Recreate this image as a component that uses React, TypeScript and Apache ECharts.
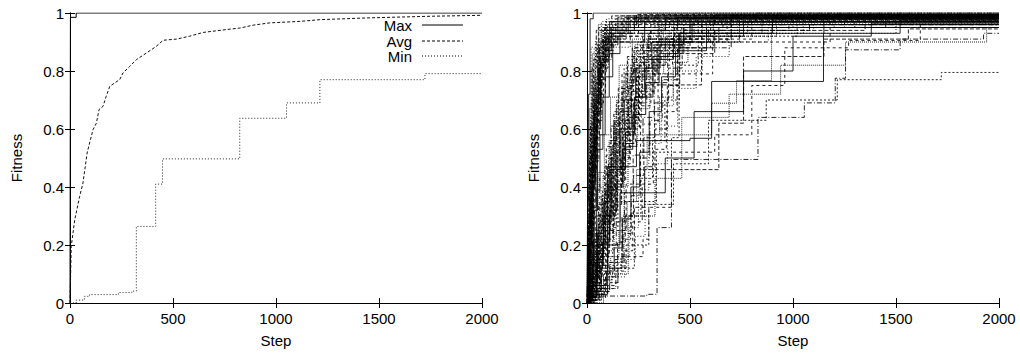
import React, { useEffect, useRef } from "react";
import * as echarts from "echarts";

// ---------- Left panel data ----------
const maxPoints: number[][] = [[0, 0], [2, 0.985], [30, 1], [2000, 1]];
const avgSteps = [0, 6, 23, 47, 63, 83, 99, 112, 128, 141, 160, 176, 193, 217, 241, 257, 290, 322, 371, 419, 452, 517, 581, 646, 760, 824, 889, 970, 1116, 1213, 1440, 1763, 2000];
const avgVals = [0, 0.195, 0.287, 0.368, 0.414, 0.517, 0.563, 0.598, 0.62, 0.667, 0.678, 0.713, 0.747, 0.759, 0.77, 0.793, 0.816, 0.839, 0.862, 0.885, 0.906, 0.91, 0.92, 0.933, 0.943, 0.948, 0.958, 0.966, 0.971, 0.977, 0.983, 0.989, 0.992];
const minSteps = [0, 30, 70, 95, 235, 300, 322, 416, 449, 824, 1051, 1213, 1723, 2000];
const minVals = [0, 0.01, 0.023, 0.029, 0.036, 0.041, 0.264, 0.41, 0.497, 0.637, 0.69, 0.77, 0.791, 0.791];

// ---------- Right panel data: individual runs [step, fitness] ----------
const runs: number[][][] = [
  [[0, 0.02], [3, 0.35], [8, 0.72], [15, 0.98], [30, 1.0]],
  [[0, 0.01], [5, 0.22], [12, 0.5], [25, 0.81], [45, 0.94], [120, 0.99]],
  [[0, 0.03], [7, 0.31], [18, 0.64], [35, 0.88], [70, 0.97], [300, 1.0]],
  [[0, 0.01], [10, 0.12], [22, 0.42], [40, 0.7], [60, 0.9], [150, 0.985]],
  [[0, 0.02], [6, 0.18], [14, 0.37], [28, 0.59], [52, 0.83], [85, 0.95], [400, 0.99]],
  [[0, 0.0], [9, 0.08], [20, 0.27], [33, 0.55], [48, 0.76], [75, 0.92], [180, 0.98]],
  [[0, 0.02], [4, 0.44], [11, 0.67], [26, 0.86], [55, 0.96], [260, 1.0]],
  [[0, 0.01], [12, 0.15], [30, 0.33], [44, 0.6], [66, 0.85], [110, 0.97]],
  [[0, 0.0], [8, 0.1], [16, 0.29], [38, 0.49], [58, 0.72], [90, 0.9], [210, 0.975]],
  [[0, 0.03], [5, 0.26], [13, 0.58], [24, 0.77], [42, 0.91], [95, 0.98], [520, 1.0]],
  [[0, 0.01], [14, 0.2], [27, 0.45], [46, 0.63], [72, 0.82], [105, 0.93], [330, 0.99]],
  [[0, 0.02], [10, 0.34], [21, 0.52], [36, 0.74], [62, 0.89], [140, 0.965], [700, 0.995]],
  [[0, 0.0], [6, 0.06], [19, 0.24], [31, 0.47], [50, 0.69], [80, 0.87], [130, 0.95], [900, 0.99]],
  [[0, 0.02], [11, 0.4], [24, 0.62], [41, 0.8], [68, 0.94], [230, 0.99]],
  [[0, 0.01], [15, 0.09], [29, 0.21], [47, 0.39], [63, 0.58], [88, 0.78], [125, 0.9], [280, 0.97]],
  [[0, 0.01], [4, 0.15], [9, 0.38], [17, 0.61], [32, 0.84], [57, 0.95], [240, 0.995]],
  [[0, 0.02], [7, 0.2], [16, 0.46], [29, 0.7], [49, 0.87], [100, 0.96], [450, 0.99]],
  [[0, 0.0], [13, 0.11], [26, 0.35], [43, 0.57], [61, 0.79], [93, 0.91], [190, 0.97], [820, 1.0]],
  [[0, 0.03], [6, 0.29], [15, 0.54], [30, 0.73], [53, 0.88], [115, 0.95], [600, 0.99]],
  [[0, 0.01], [9, 0.17], [23, 0.4], [37, 0.66], [64, 0.81], [102, 0.92], [250, 0.98]],
  [[0, 0.02], [3, 0.25], [10, 0.48], [20, 0.69], [39, 0.85], [74, 0.94], [160, 0.99]],
  [[0, 0.0], [16, 0.13], [34, 0.32], [51, 0.53], [77, 0.71], [108, 0.86], [160, 0.94], [380, 0.98]],
  [[0, 0.01], [8, 0.27], [18, 0.45], [32, 0.68], [56, 0.83], [98, 0.92], [310, 0.97], [1200, 0.995]],
  [[0, 0.02], [12, 0.19], [28, 0.5], [45, 0.73], [67, 0.9], [175, 0.98]],
  [[0, 0.0], [5, 0.07], [14, 0.28], [27, 0.51], [44, 0.67], [71, 0.84], [120, 0.93], [540, 0.985]],
  [[0, 0.01], [3, 0.1], [7, 0.26], [13, 0.43], [22, 0.6], [35, 0.78], [52, 0.9], [90, 0.97]],
  [[0, 0.0], [4, 0.05], [9, 0.16], [17, 0.33], [26, 0.49], [39, 0.64], [54, 0.79], [78, 0.9], [140, 0.98]],
  [[0, 0.02], [5, 0.12], [11, 0.3], [19, 0.47], [30, 0.63], [43, 0.77], [59, 0.87], [86, 0.95], [350, 0.995]],
  [[0, 0.01], [6, 0.09], [13, 0.22], [22, 0.39], [34, 0.56], [48, 0.71], [65, 0.83], [92, 0.93], [200, 0.985]],
  [[0, 0.0], [2, 0.06], [8, 0.19], [16, 0.36], [25, 0.52], [37, 0.69], [55, 0.81], [82, 0.91], [170, 0.97]],
  [[0, 0.01], [2, 0.04], [5, 0.11], [9, 0.2], [14, 0.31], [20, 0.42], [27, 0.55], [36, 0.67], [47, 0.78], [63, 0.88], [95, 0.95], [280, 0.99]],
  [[0, 0.0], [3, 0.03], [7, 0.08], [12, 0.17], [18, 0.28], [25, 0.38], [33, 0.5], [42, 0.62], [55, 0.74], [73, 0.85], [104, 0.93], [230, 0.98]],
  [[0, 0.02], [4, 0.06], [8, 0.14], [13, 0.25], [19, 0.34], [26, 0.46], [34, 0.59], [45, 0.72], [58, 0.82], [79, 0.91], [125, 0.97]],
  [[0, 0.0], [1, 0.02], [6, 0.05], [11, 0.12], [17, 0.23], [24, 0.35], [31, 0.44], [41, 0.57], [52, 0.7], [69, 0.8], [91, 0.89], [150, 0.96], [620, 0.995]],
  [[0, 0.01], [3, 0.07], [7, 0.15], [12, 0.27], [18, 0.4], [24, 0.51], [32, 0.65], [43, 0.76], [57, 0.86], [80, 0.94], [190, 0.99]],
  [[0, 0.0], [2, 0.02], [5, 0.06], [10, 0.13], [16, 0.21], [23, 0.32], [31, 0.41], [40, 0.53], [50, 0.66], [66, 0.77], [87, 0.87], [118, 0.94], [440, 0.985]],
  [[0, 0.01], [18, 0.05], [40, 0.14], [65, 0.31], [100, 0.45], [130, 0.6], [170, 0.74], [220, 0.88], [350, 0.96], [950, 0.99]],
  [[0, 0.0], [20, 0.04], [45, 0.1], [75, 0.19], [110, 0.36], [150, 0.55], [195, 0.72], [265, 0.85], [400, 0.94], [1100, 0.985]],
  [[0, 0.02], [25, 0.08], [55, 0.23], [90, 0.41], [120, 0.53], [160, 0.67], [210, 0.8], [300, 0.92], [620, 0.98]],
  [[0, 0.01], [15, 0.06], [35, 0.17], [60, 0.28], [95, 0.39], [140, 0.5], [185, 0.63], [240, 0.78], [330, 0.89], [480, 0.95], [1300, 0.99]],
  [[0, 0.0], [30, 0.03], [58, 0.12], [82, 0.25], [115, 0.43], [145, 0.58], [200, 0.7], [255, 0.83], [360, 0.91], [560, 0.97]],
  [[0, 0.02], [22, 0.1], [48, 0.2], [70, 0.37], [105, 0.48], [135, 0.65], [175, 0.76], [230, 0.86], [300, 0.93], [850, 0.985]],
  [[0, 0.01], [28, 0.07], [52, 0.15], [78, 0.3], [112, 0.46], [165, 0.6], [215, 0.73], [280, 0.84], [420, 0.92], [760, 0.97], [1600, 0.99]],
  [[0, 0.0], [35, 0.05], [62, 0.11], [98, 0.22], [128, 0.34], [168, 0.5], [205, 0.64], [250, 0.79], [340, 0.88], [500, 0.96]],
  [[0, 0.02], [19, 0.09], [43, 0.26], [68, 0.4], [92, 0.51], [138, 0.62], [190, 0.8], [245, 0.9], [410, 0.97]],
  [[0, 0.01], [33, 0.04], [66, 0.13], [100, 0.27], [133, 0.44], [178, 0.56], [225, 0.69], [290, 0.82], [380, 0.9], [640, 0.96], [1400, 0.99]],
  [[0, 0.0], [24, 0.11], [50, 0.18], [85, 0.33], [118, 0.52], [155, 0.71], [198, 0.84], [270, 0.93], [780, 0.99]],
  [[0, 0.02], [40, 0.06], [70, 0.16], [108, 0.32], [148, 0.42], [188, 0.55], [235, 0.68], [310, 0.79], [440, 0.88], [600, 0.95], [1000, 0.98]],
  [[0, 0.0], [8, 0.05], [20, 0.12], [38, 0.2], [60, 0.3], [95, 0.42], [150, 0.6], [205, 0.77], [290, 0.9], [520, 0.97]],
  [[0, 0.01], [10, 0.04], [25, 0.09], [50, 0.17], [80, 0.28], [120, 0.4], [175, 0.58], [230, 0.71], [320, 0.85], [450, 0.93], [900, 0.98]],
  [[0, 0.0], [12, 0.06], [30, 0.15], [55, 0.26], [85, 0.38], [125, 0.55], [160, 0.66], [215, 0.82], [275, 0.91], [700, 0.99]],
  [[0, 0.01], [6, 0.03], [22, 0.08], [42, 0.18], [72, 0.29], [100, 0.37], [145, 0.52], [185, 0.64], [265, 0.77], [345, 0.87], [430, 0.93], [1050, 0.98]],
  [[0, 0.0], [14, 0.05], [32, 0.11], [58, 0.21], [88, 0.35], [118, 0.49], [158, 0.63], [200, 0.75], [240, 0.87], [380, 0.95]],
  [[0, 0.02], [9, 0.07], [24, 0.16], [46, 0.27], [76, 0.39], [112, 0.56], [142, 0.69], [180, 0.81], [260, 0.9], [470, 0.97]],
  [[0, 0.0], [17, 0.03], [39, 0.07], [64, 0.14], [96, 0.24], [126, 0.36], [166, 0.48], [210, 0.6], [255, 0.72], [320, 0.83], [400, 0.91], [800, 0.98]],
  [[0, 0.01], [7, 0.09], [19, 0.19], [36, 0.32], [54, 0.45], [84, 0.58], [114, 0.71], [156, 0.82], [220, 0.91], [420, 0.975]],
  [[0, 0.0], [11, 0.02], [27, 0.06], [49, 0.13], [79, 0.22], [109, 0.3], [139, 0.41], [172, 0.53], [222, 0.65], [285, 0.76], [350, 0.86], [445, 0.93], [1150, 0.99]],
  [[0, 0.01], [5, 0.04], [16, 0.1], [33, 0.22], [57, 0.34], [87, 0.47], [117, 0.61], [152, 0.74], [196, 0.85], [310, 0.94], [660, 0.985]],
  [[0, 0.0], [13, 0.03], [31, 0.08], [53, 0.16], [83, 0.26], [113, 0.38], [147, 0.51], [192, 0.62], [238, 0.74], [300, 0.84], [390, 0.92], [580, 0.965]],
  [[0, 0.02], [10, 0.06], [26, 0.14], [47, 0.25], [74, 0.36], [104, 0.5], [136, 0.63], [176, 0.73], [226, 0.83], [295, 0.91], [500, 0.98]],
  [[0, 0.0], [15, 0.04], [37, 0.1], [61, 0.2], [91, 0.31], [121, 0.44], [161, 0.57], [201, 0.68], [248, 0.8], [325, 0.89], [460, 0.95], [1250, 0.99]],
  [[0, 0.01], [8, 0.08], [21, 0.17], [40, 0.3], [62, 0.43], [94, 0.54], [130, 0.66], [170, 0.79], [228, 0.88], [360, 0.96]],
  [[0, 0.0], [18, 0.02], [44, 0.05], [69, 0.1], [101, 0.18], [131, 0.28], [163, 0.4], [199, 0.54], [244, 0.67], [305, 0.79], [372, 0.88], [455, 0.94], [980, 0.985]],
  [[0, 0.01], [12, 0.05], [29, 0.13], [51, 0.24], [81, 0.35], [111, 0.47], [141, 0.59], [181, 0.7], [236, 0.81], [315, 0.9], [510, 0.97]],
  [[0, 0.0], [9, 0.03], [23, 0.07], [45, 0.15], [71, 0.27], [103, 0.4], [137, 0.52], [173, 0.65], [218, 0.78], [278, 0.87], [425, 0.95]],
  [[0, 0.02], [14, 0.1], [34, 0.21], [56, 0.33], [86, 0.46], [116, 0.57], [151, 0.68], [193, 0.78], [252, 0.87], [335, 0.93], [730, 0.98]],
  [[0, 0.0], [20, 0.03], [46, 0.09], [73, 0.17], [106, 0.29], [143, 0.42], [183, 0.55], [227, 0.69], [270, 0.8], [340, 0.9], [590, 0.96]],
  [[0, 0.01], [16, 0.06], [41, 0.14], [67, 0.23], [97, 0.33], [127, 0.45], [159, 0.56], [197, 0.7], [243, 0.82], [312, 0.9], [435, 0.96]],
  [[0, 0.0], [7, 0.02], [18, 0.05], [35, 0.11], [59, 0.19], [89, 0.3], [122, 0.39], [162, 0.5], [208, 0.61], [262, 0.73], [330, 0.82], [415, 0.9], [680, 0.97]],
  [[0, 0.02], [11, 0.08], [28, 0.18], [50, 0.29], [78, 0.44], [107, 0.56], [144, 0.7], [186, 0.79], [232, 0.89], [370, 0.96]],
  [[0, 0.0], [21, 0.04], [48, 0.12], [76, 0.21], [111, 0.32], [146, 0.46], [187, 0.59], [233, 0.71], [282, 0.81], [355, 0.89], [470, 0.95], [1450, 0.99]],
  [[0, 0.0], [25, 0.02], [60, 0.04], [110, 0.07], [150, 0.12], [190, 0.2], [230, 0.33], [280, 0.47], [330, 0.6], [390, 0.75], [450, 0.86], [620, 0.94], [1350, 0.985]],
  [[0, 0.01], [30, 0.03], [75, 0.06], [120, 0.1], [165, 0.16], [205, 0.26], [250, 0.39], [300, 0.55], [360, 0.68], [420, 0.8], [560, 0.9], [880, 0.97]],
  [[0, 0.0], [15, 0.02], [50, 0.05], [90, 0.09], [135, 0.15], [175, 0.24], [215, 0.37], [258, 0.5], [305, 0.63], [365, 0.77], [440, 0.88], [700, 0.96]],
  [[0, 0.01], [40, 0.03], [85, 0.08], [125, 0.13], [170, 0.22], [212, 0.31], [262, 0.43], [318, 0.56], [378, 0.7], [448, 0.82], [540, 0.92], [1020, 0.98]],
  [[0, 0.0], [20, 0.01], [55, 0.03], [100, 0.06], [140, 0.11], [180, 0.18], [222, 0.28], [268, 0.41], [322, 0.53], [385, 0.66], [437, 0.79], [610, 0.9], [1180, 0.97]],
  [[0, 0.02], [35, 0.05], [80, 0.1], [115, 0.16], [155, 0.25], [195, 0.35], [240, 0.46], [292, 0.58], [352, 0.71], [418, 0.83], [490, 0.92], [920, 0.985]],
  [[0, 0.0], [10, 0.02], [45, 0.06], [95, 0.11], [132, 0.19], [172, 0.29], [213, 0.4], [256, 0.52], [302, 0.66], [362, 0.78], [430, 0.87], [580, 0.95]],
  [[0, 0.01], [28, 0.04], [68, 0.08], [108, 0.14], [148, 0.21], [186, 0.3], [226, 0.44], [276, 0.57], [328, 0.69], [396, 0.81], [462, 0.9], [740, 0.97]],
  [[0, 0.0], [45, 0.02], [95, 0.05], [140, 0.09], [185, 0.15], [235, 0.23], [282, 0.34], [335, 0.48], [390, 0.61], [440, 0.74], [530, 0.85], [690, 0.93], [1500, 0.98]],
  [[0, 0.02], [22, 0.06], [62, 0.12], [102, 0.2], [142, 0.28], [182, 0.38], [224, 0.51], [272, 0.64], [326, 0.76], [392, 0.86], [470, 0.94], [1080, 0.99]],
  [[0, 0.01], [60, 0.16], [125, 0.26], [150, 0.35], [337, 0.52], [410, 0.57], [447, 0.88], [613, 0.99]],
  [[0, 0.02], [90, 0.25], [190, 0.41], [260, 0.617], [345, 0.96], [700, 0.99]],
  [[0, 0.01], [50, 0.14], [180, 0.54], [240, 0.58], [605, 0.689], [726, 0.767], [896, 0.95], [1200, 0.985]],
  [[0, 0.03], [100, 0.47], [240, 0.56], [500, 0.568], [605, 0.764], [1148, 0.93], [1520, 0.975]],
  [[0, 0.02], [30, 0.3], [130, 0.62], [250, 0.752], [556, 0.97], [1100, 0.995]],
  [[0, 0.05], [20, 0.882], [210, 0.9], [613, 0.99]],
  [[0, 0.0], [40, 0.02], [65, 0.024], [290, 0.03], [340, 0.26], [410, 0.495], [830, 0.64], [1055, 0.69], [1205, 0.775], [1255, 0.873], [1520, 0.91], [1925, 0.93]],
  [[0, 0.0], [30, 0.04], [110, 0.12], [230, 0.2], [300, 0.34], [420, 0.48], [590, 0.63], [870, 0.7], [1215, 0.77], [1720, 0.795]],
  [[0, 0.01], [55, 0.05], [150, 0.16], [272, 0.22], [300, 0.33], [410, 0.52], [620, 0.58], [800, 0.75], [960, 0.88], [1270, 0.905], [1618, 0.96]],
  [[0, 0.0], [80, 0.1], [200, 0.3], [330, 0.43], [460, 0.64], [690, 0.72], [940, 0.82], [1255, 0.9], [1940, 0.95]],
  [[0, 0.02], [45, 0.2], [160, 0.38], [380, 0.5], [520, 0.66], [760, 0.8], [1000, 0.92], [1380, 0.965]],
  [[0, 0.01], [70, 0.12], [170, 0.3], [280, 0.46], [640, 0.62], [760, 0.85], [1150, 0.91], [1560, 0.945]],
];

const xTicks = { min: 0, max: 2000, interval: 500 };
const yTicks = { min: 0, max: 1, interval: 0.2 };
const legendNames = ["Max", "Avg", "Min"];

const FONT = "'Liberation Sans', Arial, Helvetica, sans-serif";
const FS = 15;

export default function App() {
  const ref = useRef<HTMLDivElement>(null);
  useEffect(() => {
    document.body.style.margin = "0";
    if (!ref.current) return;
    const chart = echarts.init(ref.current, undefined, { renderer: "svg" });

    const grids = [
      { left: 70, top: 13, width: 412, height: 290 },
      { left: 587, top: 13, width: 412, height: 290 },
    ];

    const fmtY = (v: number) => String(parseFloat(v.toFixed(1)));
    const fmtX = (v: number) => String(Math.round(v));
    const mkX = (gi: number, pos: "bottom" | "top") => ({
      type: "value",
      gridIndex: gi,
      position: pos,
      ...xTicks,
      name: pos === "bottom" ? "Step" : "",
      nameLocation: "middle",
      nameGap: 30,
      nameTextStyle: { fontFamily: FONT, fontSize: FS, color: "#000" },
      axisLine: { show: true, lineStyle: { color: "#000", width: 1 } },
      axisTick: { show: true, inside: true, length: 5, lineStyle: { color: "#000" } },
      axisLabel: { show: pos === "bottom", fontFamily: FONT, fontSize: FS, color: "#000", margin: 8, formatter: fmtX },
      splitLine: { show: false },
    });
    const mkY = (gi: number, pos: "left" | "right") => ({
      type: "value",
      gridIndex: gi,
      position: pos,
      ...yTicks,
      name: pos === "left" ? "Fitness" : "",
      nameLocation: "middle",
      nameGap: 46,
      nameTextStyle: { fontFamily: FONT, fontSize: FS, color: "#000" },
      axisLine: { show: true, lineStyle: { color: "#000", width: 1 } },
      axisTick: { show: true, inside: true, length: 5, lineStyle: { color: "#000" } },
      axisLabel: { show: pos === "left", fontFamily: FONT, fontSize: FS, color: "#000", margin: 6, formatter: fmtY },
      splitLine: { show: false },
    });

    const dashCycle: any[] = ["solid", [4, 2], [1, 2], [5, 2, 1, 2], [2, 2], [3, 3], [1, 1]];

    const runSeries = runs.map((r, i) => ({
      type: "line",
      xAxisIndex: 2,
      yAxisIndex: 2,
      step: "end",
      showSymbol: false,
      symbol: "none",
      data: [...r, [2000, r[r.length - 1][1]]],
      lineStyle: { color: "#000", width: 1, type: dashCycle[i % dashCycle.length], opacity: 0.85 },
      silent: true,
    }));

    const legendY = [25, 41, 56];
    const legendDash: any[] = [null, [3, 2], [1, 2]];
    const graphics: any[] = [];
    legendNames.forEach((n, i) => {
      graphics.push({
        type: "text",
        x: 412,
        y: legendY[i],
        style: { text: n, fontFamily: FONT, fontSize: FS, fill: "#000", textAlign: "right", textVerticalAlign: "middle" },
      });
      graphics.push({
        type: "line",
        shape: { x1: 422, y1: legendY[i], x2: 463, y2: legendY[i] },
        style: { stroke: "#000", lineWidth: 1, lineDash: legendDash[i] || undefined },
      });
    });

    chart.setOption({
      animation: false,
      backgroundColor: "#fff",
      grid: grids,
      xAxis: [mkX(0, "bottom"), mkX(0, "top"), mkX(1, "bottom"), mkX(1, "top")],
      yAxis: [mkY(0, "left"), mkY(0, "right"), mkY(1, "left"), mkY(1, "right")],
      series: [
        {
          name: "Max",
          type: "line",
          xAxisIndex: 0,
          yAxisIndex: 0,
          step: "end",
          symbol: "none",
          data: maxPoints,
          lineStyle: { color: "#000", width: 1, type: "solid" },
        },
        {
          name: "Avg",
          type: "line",
          xAxisIndex: 0,
          yAxisIndex: 0,
          symbol: "none",
          data: avgSteps.map((s, i) => [s, avgVals[i]]),
          lineStyle: { color: "#111", width: 1, type: [3, 2] },
        },
        {
          name: "Min",
          type: "line",
          xAxisIndex: 0,
          yAxisIndex: 0,
          step: "end",
          symbol: "none",
          data: minSteps.map((s, i) => [s, minVals[i]]),
          lineStyle: { color: "#222", width: 1, type: [1, 2] },
        },
        ...runSeries,
      ],
      graphic: graphics,
    });
    return () => chart.dispose();
  }, []);
  return <div ref={ref} style={{ width: 1020, height: 354 }} />;
}
